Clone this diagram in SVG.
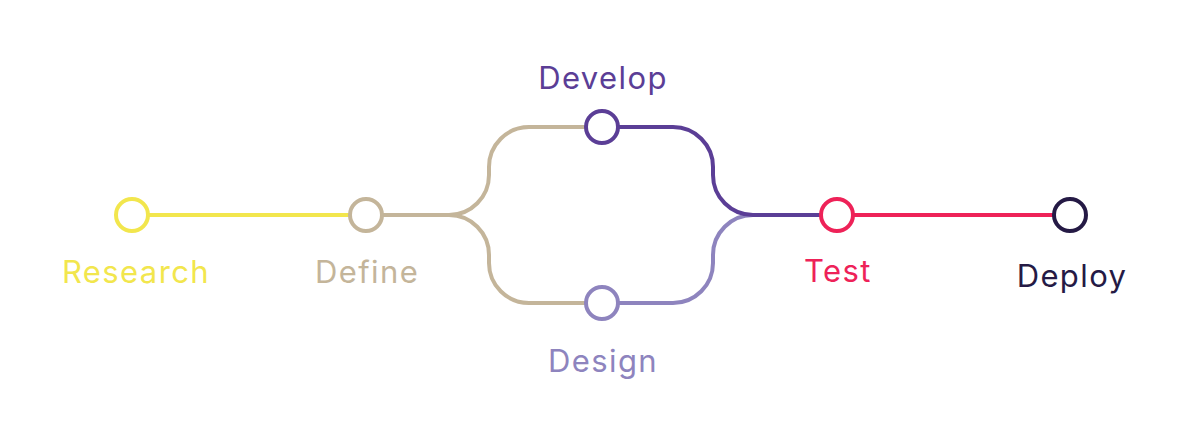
<svg xmlns="http://www.w3.org/2000/svg" width="1200" height="426" viewBox="0 0 1200 426">
<style>
.ln{fill:none;stroke-width:4}
.nd{fill:#fff;stroke-width:4}
text{font-family:Inter,"Open Sans","DejaVu Sans",sans-serif;font-size:31px;letter-spacing:1.4px;text-anchor:middle}
</style>
<rect width="1200" height="426" fill="#fff"/>
<g id="connectors">
<path class="ln" stroke="#F2E64D" d="M148 215 H350"/>
<path class="ln" stroke="#C4B59A" d="M382 215 H449 A40 40 0 0 0 489 175 V167 A40 40 0 0 1 529 127 H586"/>
<path class="ln" stroke="#C4B59A" d="M449 215 A40 40 0 0 1 489 255 V263 A40 40 0 0 0 529 303 H586"/>
<path class="ln" stroke="#8E84BE" d="M618 303 H673 A40 40 0 0 0 713 263 V255 A40 40 0 0 1 753 215"/>
<path class="ln" stroke="#5B3E96" d="M618 127 H673 A40 40 0 0 1 713 167 V175 A40 40 0 0 0 753 215 H821"/>
<path class="ln" stroke="#EE2258" d="M853 215 H1054"/>
</g>
<g id="research"><circle class="nd" cx="132" cy="215" r="16" stroke="#F2E64D"/><text x="136" y="283" fill="#F2E64D">Research</text></g>
<g id="define"><circle class="nd" cx="366" cy="215" r="16" stroke="#C4B59A"/><text x="367" y="283" fill="#C4B59A">Define</text></g>
<g id="develop"><circle class="nd" cx="602" cy="127" r="16" stroke="#5B3E96"/><text x="603" y="89" fill="#5B3E96">Develop</text></g>
<g id="design"><circle class="nd" cx="602" cy="303" r="16" stroke="#8E84BE"/><text x="603" y="372" fill="#8E84BE">Design</text></g>
<g id="test"><circle class="nd" cx="837" cy="215" r="16" stroke="#EE2258"/><text x="838" y="282" fill="#EE2258">Test</text></g>
<g id="deploy"><circle class="nd" cx="1070" cy="215" r="16" stroke="#251A45"/><text x="1072" y="287" fill="#251A45">Deploy</text></g>
</svg>
